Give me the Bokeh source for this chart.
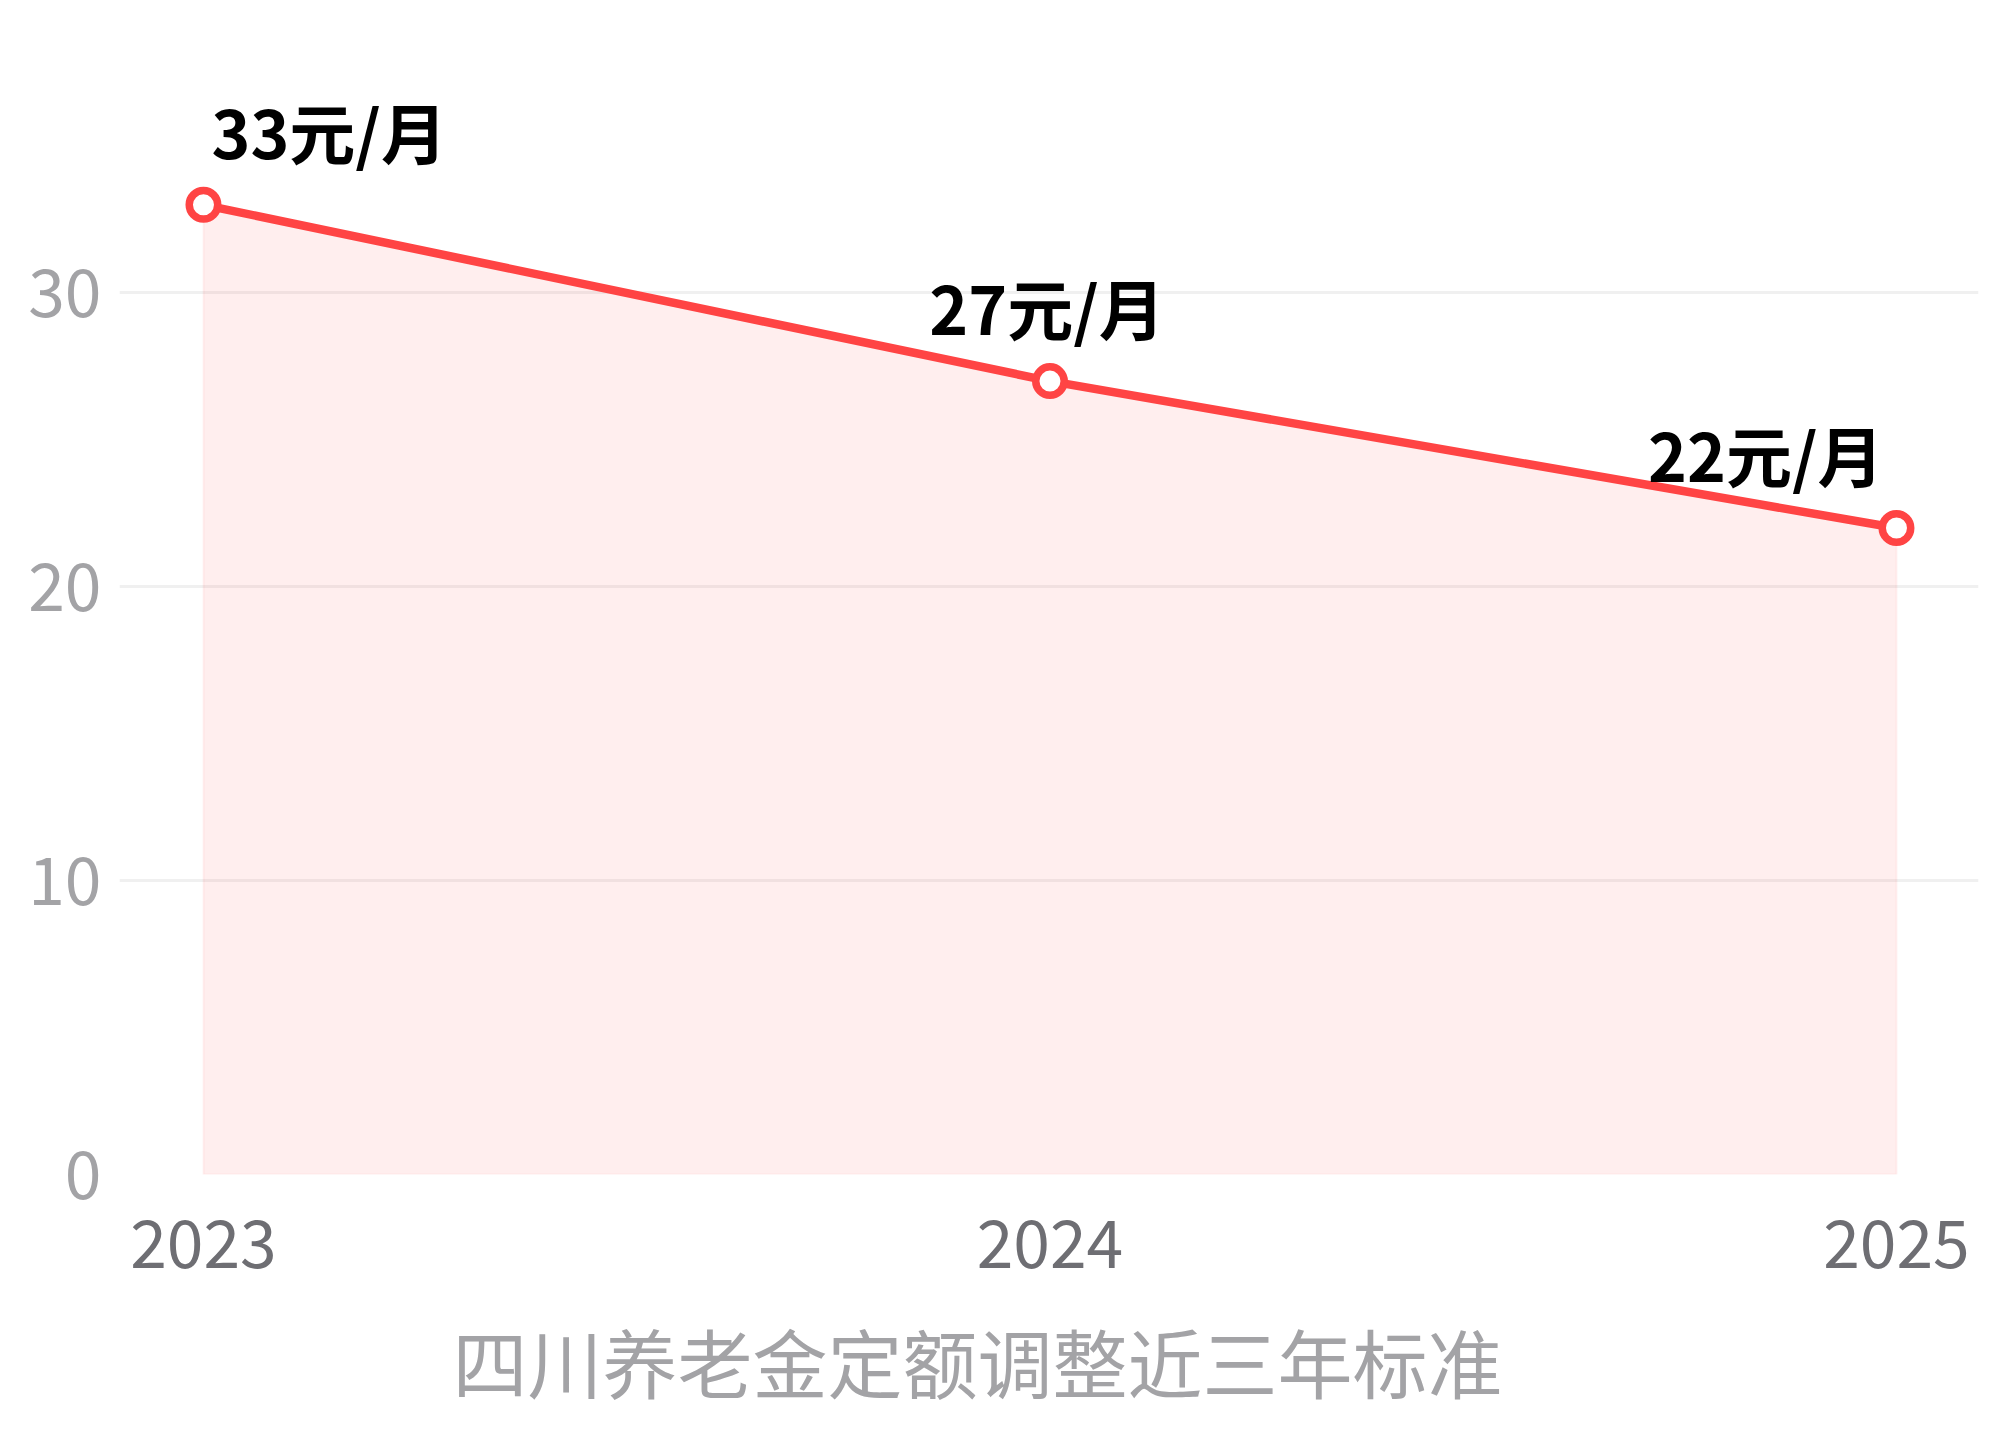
from bokeh.plotting import figure
from bokeh.models import ColumnDataSource, FixedTicker, Range1d, Title
from bokeh.core.properties import value
from bokeh.embed import file_html
from bokeh.resources import INLINE

# data
years = [2023, 2024, 2025]
amounts = [33, 27, 22]
unit = "元/月"
labels = [f"{a}{unit}" for a in amounts]
y_ticks = [0, 10, 20, 30]
title_text = "四川养老金定额调整近三年标准"

# label placement (style, not data)
label_align = ["left", "center", "right"]
label_dx = [8, -3, -13]

FONT = "Noto Sans CJK SC"
RED = "#FF4444"

p = figure(width=1993, height=1447, output_backend="svg", toolbar_location=None,
           x_range=Range1d(2022.9008, 2025.0969), y_range=Range1d(0, 39),
           min_border_left=119, min_border_right=15, min_border_top=28,
           min_border_bottom=272)
p.outline_line_color = None
p.background_fill_color = "white"
p.border_fill_color = "white"

# area
xs = years + years[::-1]
ys = amounts + [0] * len(years)
p.patch(xs, ys, fill_color=RED, fill_alpha=0.09, line_color=RED, line_alpha=0.06, line_width=2)

# line + markers
p.line(years, amounts, line_color=RED, line_width=8.5)
p.scatter(years, amounts, size=28.5, fill_color="white", line_color=RED, line_width=7.5)

src = ColumnDataSource(dict(x=years, y=amounts, t=labels, al=label_align, dx=label_dx))
p.text(x="x", y="y", text="t", source=src, text_align="al", x_offset="dx", y_offset=-75,
       text_baseline="alphabetic", text_font=value(FONT), text_font_style="bold",
       text_font_size="66px", text_color="black")

# axes
p.xaxis.ticker = FixedTicker(ticks=years)
p.yaxis.ticker = FixedTicker(ticks=y_ticks)
for ax in (p.xaxis, p.yaxis):
    ax.axis_line_color = None
    ax.major_tick_line_color = None
    ax.minor_tick_line_color = None
    ax.major_tick_out = 0
    ax.major_tick_in = 0
    ax.major_label_text_font = FONT
    ax.major_label_text_font_size = "66px"
p.xaxis.major_label_text_color = "#6E6E73"
p.yaxis.major_label_text_color = "#A3A3A6"
p.xaxis.major_label_standoff = 45
p.yaxis.major_label_standoff = 18

p.xgrid.grid_line_color = None
p.ygrid.grid_line_color = "#F0F0F0"
p.ygrid.grid_line_width = 3
p.ygrid.ticker = FixedTicker(ticks=y_ticks)

p.add_layout(Title(text=title_text, align="left", offset=333, standoff=66,
                   text_font=FONT, text_font_size="75px", text_font_style="normal",
                   text_color="#A3A3A6"), "below")

open("out.html", "w").write(file_html(p, INLINE))
